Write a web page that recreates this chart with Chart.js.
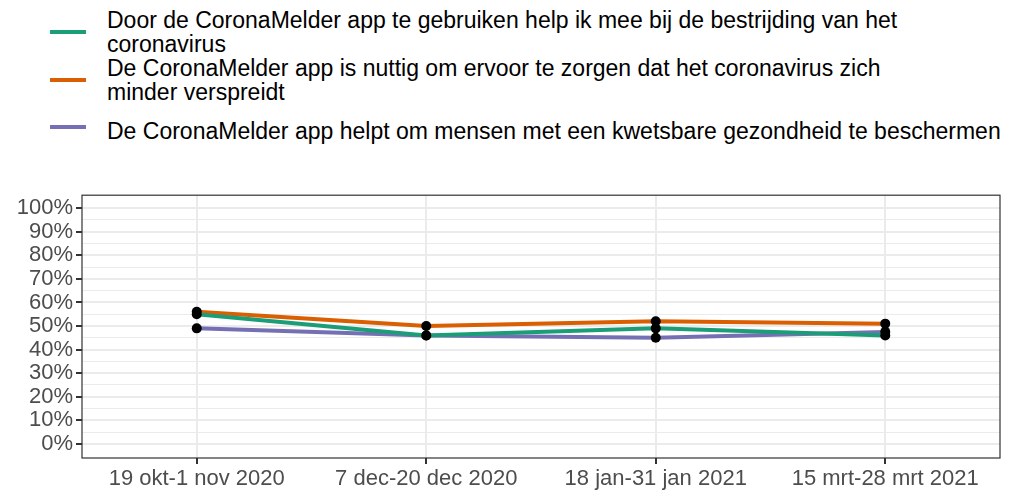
<!DOCTYPE html>
<html>
<head>
<meta charset="utf-8">
<script src="https://cdn.jsdelivr.net/npm/chart.js@4"></script>
<style>
  body { margin: 0; width: 1020px; height: 492px; background: #fff; font-family: "Liberation Sans", Arial, sans-serif; overflow: hidden; }
  #legend { position: absolute; left: 50px; top: 8px; }
  .item { position: relative; padding-left: 57px; font-size: 23px; line-height: 24px; color: #000; }
  .swatch { position: absolute; left: 0; width: 36px; height: 4px; }
  #wrap { position: absolute; left: 0; top: 179px; width: 1020px; height: 313px; }
</style>
</head>
<body>
<div id="legend"></div>
<div id="wrap"><canvas id="chart"></canvas></div>
<script>
// periods on the x axis
const periods = ['19 okt-1 nov 2020', '7 dec-20 dec 2020', '18 jan-31 jan 2021', '15 mrt-28 mrt 2021'];

// series (percentages)
const helpBestrijding = [55, 46, 49, 46];
const nuttigVerspreiding = [56, 50, 52, 51];
const kwetsbareBescherming = [49, 46, 45, 47.5];

const seriesNames = [
    ['Door de CoronaMelder app te gebruiken help ik mee bij de bestrijding van het', 'coronavirus'],
    ['De CoronaMelder app is nuttig om ervoor te zorgen dat het coronavirus zich', 'minder verspreidt'],
    ['De CoronaMelder app helpt om mensen met een kwetsbare gezondheid te beschermen']
];
const seriesColors = ['#1b9e77', '#d95f02', '#7570b3'];
const yTicks = [0, 5, 10, 15, 20, 25, 30, 35, 40, 45, 50, 55, 60, 65, 70, 75, 80, 85, 90, 95, 100];

// legend built by hand so long names wrap like the original
const legend = document.getElementById('legend');
const legendTops = [0, 48, 111];
const swatchTops = [22, 22, 6];
seriesNames.forEach(function(lines, i) {
    const div = document.createElement('div');
    div.className = 'item';
    div.style.position = 'absolute';
    div.style.top = legendTops[i] + 'px';
    div.style.whiteSpace = 'nowrap';
    const sw = document.createElement('span');
    sw.className = 'swatch';
    sw.style.background = seriesColors[i];
    sw.style.top = swatchTops[i] + 'px';
    div.appendChild(sw);
    lines.forEach(function(t) {
        const l = document.createElement('div');
        l.textContent = t;
        div.appendChild(l);
    });
    legend.appendChild(div);
});

const panelBorder = {
    id: 'panelBorder',
    afterDraw(chart) {
        const a = chart.chartArea;
        const ctx = chart.ctx;
        ctx.save();
        ctx.strokeStyle = '#333333';
        ctx.lineWidth = 1.2;
        ctx.strokeRect(a.left, a.top, a.right - a.left, a.bottom - a.top);
        ctx.restore();
    }
};

function makeSet(data, i) {
    return {
        label: seriesNames[i].join(' '),
        data: data,
        borderColor: seriesColors[i],
        backgroundColor: '#000',
        borderWidth: 4,
        pointRadius: 5,
        pointBackgroundColor: '#000',
        pointBorderWidth: 0,
        tension: 0
    };
}

new Chart(document.getElementById('chart'), {
    type: 'line',
    data: {
        labels: periods,
        datasets: [
            makeSet(helpBestrijding, 0),
            makeSet(nuttigVerspreiding, 1),
            makeSet(kwetsbareBescherming, 2)
        ]
    },
    options: {
        responsive: true,
        maintainAspectRatio: false,
        animation: false,
        layout: { padding: { top: 0, right: 20, left: 0, bottom: 0 } },
        plugins: { legend: { display: false }, tooltip: { enabled: false } },
        scales: {
            x: {
                offset: true,
                grid: { color: '#ebebeb', lineWidth: 2, tickColor: '#333333', tickLength: 6, offset: false },
                border: { display: false },
                ticks: { color: '#4d4d4d', font: { family: 'Liberation Sans', size: 22 }, padding: 2, maxRotation: 0 },
                afterFit(scale) { scale.height = 34; }
            },
            y: {
                min: -6,
                max: 105.5,
                afterBuildTicks(scale) { scale.ticks = yTicks.map(v => ({ value: v })); },
                grid: {
                    color: '#ebebeb',
                    lineWidth: ctx => (ctx.tick && ctx.tick.value % 10 === 0) ? 2 : 1,
                    tickColor: ctx => (ctx.tick && ctx.tick.value % 10 === 0) ? '#333333' : 'rgba(0,0,0,0)',
                    tickLength: 6
                },
                border: { display: false },
                ticks: {
                    color: '#4d4d4d',
                    font: { family: 'Liberation Sans', size: 22 },
                    padding: 3,
                    autoSkip: false,
                    callback: v => (v % 10 === 0 ? v + '%' : '')
                },
                afterFit(scale) { scale.width = 82; }
            }
        }
    },
    plugins: [panelBorder]
});
</script>
</body>
</html>
